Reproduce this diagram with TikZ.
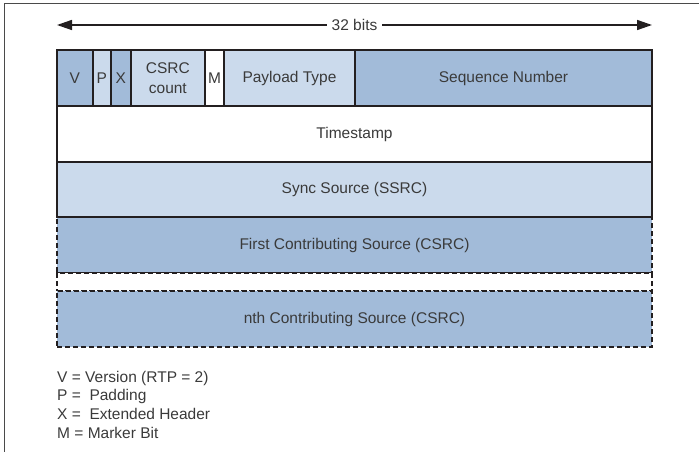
\documentclass[tikz,border=0pt]{standalone}
\usepackage{fontspec}
\setmainfont{Liberation Sans}
\usetikzlibrary{arrows.meta}
\definecolor{dkblue}{HTML}{A2BBD9}
\definecolor{ltblue}{HTML}{CBDAEC}
\definecolor{edge}{HTML}{231F20}
\definecolor{txt}{HTML}{3A3A3A}
\definecolor{framec}{HTML}{4A4A4A}
\newcommand{\myfs}{\fontsize{15.5}{19.5}\selectfont}
\begin{document}
\begin{tikzpicture}[x=1pt,y=-1pt,
  cell/.style={rectangle, draw=edge, line width=1.8pt, inner sep=0pt, outer sep=0pt,
    anchor=north west, minimum height=56pt, text=txt, font=\myfs, align=center},
  dashcell/.style={cell, dash pattern=on 5pt off 3pt},
  dark/.style={fill=dkblue},
  light/.style={fill=ltblue},
  blank/.style={fill=white},
  legend/.style={anchor=base west, inner sep=0pt, text=txt, font=\myfs},
  framel/.style={draw=framec, line width=1pt}
]
\useasboundingbox (0,0) rectangle (699,452);
% frame
\draw[framel] (699,3.5) -- (4,3.5) -- (4,452);
% width arrow
\coordinate (aL) at (57,25);
\coordinate (aR) at (652,25);
\draw[draw=edge, line width=1.5pt, {Triangle[length=15pt,width=10pt]}-{Triangle[length=15pt,width=10pt]}]
  (aL) -- (aR) node[midway, fill=white, inner xsep=5pt, inner ysep=2pt, text=txt, font=\myfs] (bits) {32 bits};
% dashed rows (drawn first so solid borders sit on top)
\node[dashcell, dark, minimum width=595pt] (csrc1) at (57,217) {First Contributing Source (CSRC)};
\node[dashcell, blank, minimum width=595pt, minimum height=18pt] (gap) at (57,273) {};
\node[dashcell, dark, minimum width=595pt] (csrcn) at (57,291) {nth Contributing Source (CSRC)};
% header row 1
\node[cell, dark, minimum width=35.7pt] (v) at (57,50) {V};
\node[cell, light, minimum width=18.3pt] (p) at (92.7,50) {P};
\node[cell, dark, minimum width=19.7pt] (x) at (111,50) {X};
\node[cell, light, minimum width=74.3pt] (cc) at (130.7,50) {CSRC\\count};
\node[cell, blank, minimum width=19pt] (m) at (205,50) {M};
\node[cell, light, minimum width=131pt] (pt) at (224,50) {Payload Type};
\node[cell, dark, minimum width=297pt] (sn) at (355,50) {Sequence Number};
% timestamp and ssrc
\node[cell, blank, minimum width=595pt] (ts) at (57,106) {Timestamp};
\node[cell, light, minimum width=595pt, minimum height=55pt] (ssrc) at (57,162) {Sync Source (SSRC)};
% legend
\node[legend] (l1) at (57,382) {V = Version (RTP = 2)};
\node[legend] (l2) at (57,400.7) {P = \ Padding};
\node[legend] (l3) at (57,419.4) {X = \ Extended Header};
\node[legend] (l4) at (57,438.1) {M = Marker Bit};
\end{tikzpicture}
\end{document}
